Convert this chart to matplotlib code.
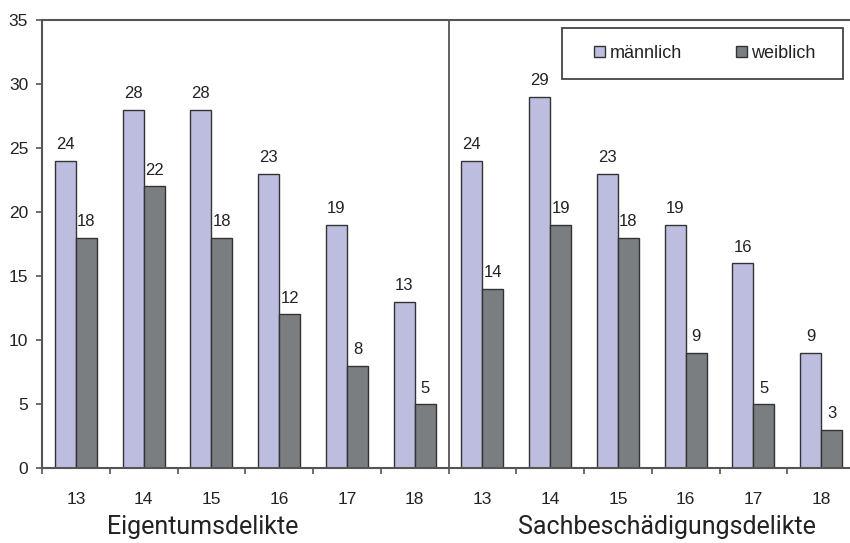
import matplotlib.pyplot as plt
import matplotlib.transforms as mtransforms
from matplotlib.patches import Rectangle
import numpy as np

plt.rcParams['font.family'] = ['Liberation Sans', 'DejaVu Sans']

ages = ['13', '14', '15', '16', '17', '18']
sections = ['Eigentumsdelikte', 'Sachbeschädigungsdelikte']
maennlich = [24, 28, 28, 23, 19, 13, 24, 29, 23, 19, 16, 9]
weiblich = [18, 22, 18, 12, 8, 5, 14, 19, 18, 9, 5, 3]

col_m = '#bdbddf'
col_w = '#7b7e81'
edge = '#333333'
axis_col = '#555555'
txt = '#222222'

fig = plt.figure(figsize=(8.5, 5.43), dpi=100)
ax = fig.add_axes([42 / 850, 75 / 543, 813 / 850, 448 / 543])

x = np.arange(len(maennlich))
w = 0.31
bm = ax.bar(x - w / 2, maennlich, w, color=col_m, edgecolor=edge, linewidth=1.0, label='männlich')
bw = ax.bar(x + w / 2, weiblich, w, color=col_w, edgecolor=edge, linewidth=1.0, label='weiblich')

for bars in (bm, bw):
    for b in bars:
        ax.annotate(f'{int(b.get_height())}', (b.get_x() + b.get_width() / 2, b.get_height()),
                    xytext=(0, 6), textcoords='offset points', ha='center', va='bottom',
                    fontsize=12, color=txt)

ax.set_xlim(-0.5, len(x) - 0.5)
ax.set_ylim(0, 35)
ax.set_yticks(range(0, 36, 5))
ax.set_xticks(x)
ax.set_xticklabels(ages * 2)
ax.set_xticks(np.arange(-0.5, len(x), 1), minor=True)
ax.tick_params(axis='x', which='major', length=0, pad=17, labelsize=12.5, labelcolor=txt)
ax.tick_params(axis='x', which='minor', length=4, direction='out', color=axis_col, width=1.2)
ax.tick_params(axis='y', length=4, direction='out', color=axis_col, width=1.2, pad=6,
               labelsize=12.5, labelcolor=txt)

for s in ['left', 'bottom', 'top']:
    ax.spines[s].set_color(axis_col)
    ax.spines[s].set_linewidth(1.5)
ax.spines['right'].set_visible(False)

# divider between the two sections
ax.axvline(5.5, color=axis_col, linewidth=1.3)

trans = mtransforms.blended_transform_factory(ax.transData, fig.transFigure)
ax.text(1.87, 9 / 543, sections[0], transform=trans, ha='center', va='baseline',
        fontsize=18, family='Roboto', color=txt)
ax.text(8.72, 9 / 543, sections[1], transform=trans, ha='center', va='baseline',
        fontsize=18, family='Roboto', color=txt)

# legend box
ax.add_patch(Rectangle((562 / 850, 1 - 79 / 543), 281 / 850, 51 / 543,
                       transform=fig.transFigure, facecolor='white', clip_on=False,
                       edgecolor='#444444', linewidth=1.3, zorder=5))
leg = ax.legend(loc='center', bbox_to_anchor=(705 / 850, 1 - 53.5 / 543),
                bbox_transform=fig.transFigure, ncol=2, frameon=False, borderpad=0,
                handlelength=0.6, handleheight=0.6, handletextpad=0.25, columnspacing=3.0,
                prop={'size': 13})
for t in leg.get_texts():
    t.set_color(txt)
leg.set_zorder(6)

fig.savefig('out.png', dpi=100)
